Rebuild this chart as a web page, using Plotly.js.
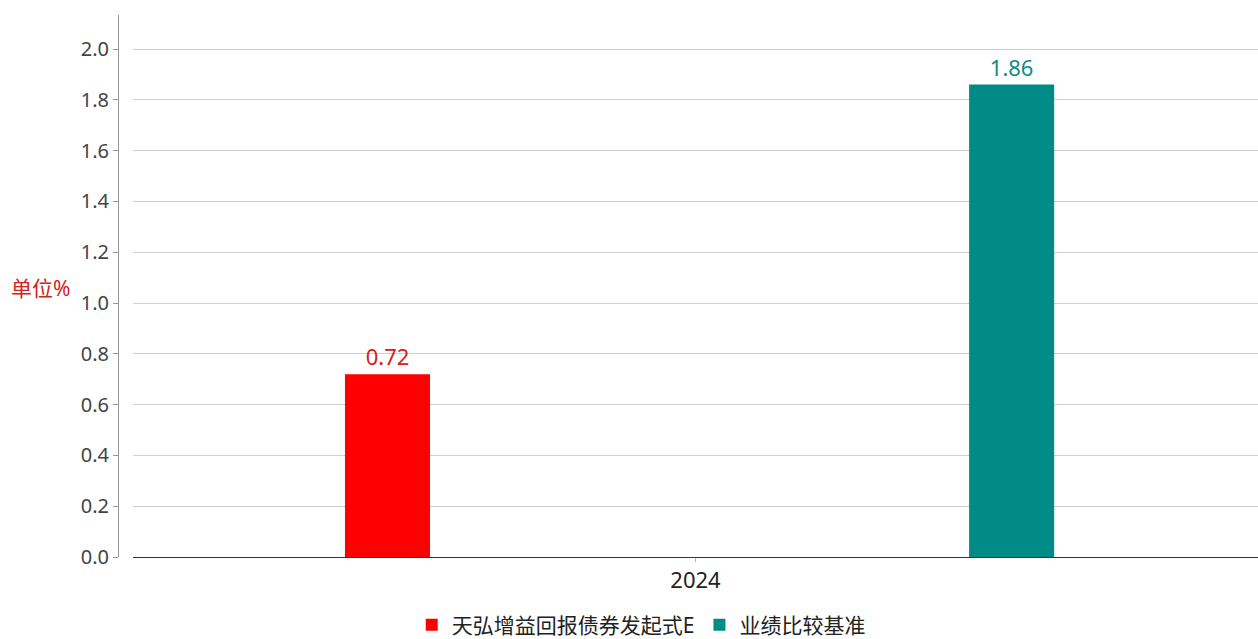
<!DOCTYPE html>
<html>
<head>
<meta charset="utf-8">
<script src="https://cdn.plot.ly/plotly-3.0.1.min.js"></script>
<style>html,body{margin:0;padding:0;background:#fff;}#chart{width:1258px;height:639px;}</style>
</head>
<body>
<div id="chart"></div>
<script>
var categories = ['2024'];
var seriesNames = ['天弘增益回报债券发起式E', '业绩比较基准'];
var fundValues = [0.72];
var benchValues = [1.86];
var yTickVals = [0, 0.2, 0.4, 0.6, 0.8, 1.0, 1.2, 1.4, 1.6, 1.8, 2.0];
var yTickText = ['0.0','0.2','0.4','0.6','0.8','1.0','1.2','1.4','1.6','1.8','2.0'];
var yUnit = '单位%';

var FONT = 'Noto Sans, Noto Sans CJK SC, sans-serif';
var barW = 0.0756;

var traces = [
  {
    type: 'bar', name: seriesNames[0], x: categories, y: fundValues,
    marker: {color: '#ff0000'}, width: barW, offset: -0.3116,
    text: fundValues.map(function(v){return v.toFixed(2);}),
    textposition: 'outside', cliponaxis: false,
    textfont: {color: '#d42020', size: 22, family: FONT},
    hoverinfo: 'y'
  },
  {
    type: 'bar', name: seriesNames[1], x: categories, y: benchValues,
    marker: {color: '#008b87'}, width: barW, offset: 0.2432,
    text: benchValues.map(function(v){return v.toFixed(2);}),
    textposition: 'outside', cliponaxis: false,
    textfont: {color: '#158a86', size: 22, family: FONT},
    hoverinfo: 'y'
  }
];

var layout = {
  width: 1258, height: 639,
  margin: {l: 118, r: 0, t: 15, b: 82, pad: 0, autoexpand: false},
  paper_bgcolor: '#fff', plot_bgcolor: '#fff',
  font: {family: FONT, color: '#444'},
  barmode: 'overlay',
  showlegend: true,
  legend: {orientation: 'h', x: 0.459, xanchor: 'center', xref: 'paper',
           y: 0.054, yanchor: 'top', yref: 'container',
           font: {size: 21, color: '#222', family: FONT}, itemwidth: 30, traceorder: 'normal'},
  xaxis: {
    type: 'category', domain: [0.01316, 1], range: [-0.5, 0.5],
    showline: true, linecolor: '#333', linewidth: 1,
    ticks: 'outside', ticklen: 4, tickcolor: '#bbb',
    tickfont: {size: 22, color: '#222', family: FONT},
    showgrid: false, zeroline: false, fixedrange: true, automargin: false
  },
  yaxis: {
    anchor: 'free', position: 0, range: [0, 2.134],
    tickvals: yTickVals, ticktext: yTickText,
    showline: true, linecolor: '#999', linewidth: 1,
    ticks: 'outside', ticklen: 5, tickcolor: '#999',
    tickfont: {size: 20, color: '#444', family: FONT},
    showgrid: true, gridcolor: '#cfcfcf', gridwidth: 1,
    zeroline: false, fixedrange: true, automargin: false
  },
  annotations: [
    {text: yUnit, xref: 'paper', yref: 'paper', x: -0.04, y: 0.497, xanchor: 'right', yanchor: 'middle',
     showarrow: false, font: {size: 21, color: '#d42020', family: FONT}}
  ]
};

Plotly.newPlot('chart', traces, layout, {displayModeBar: false, staticPlot: true});
</script>
</body>
</html>
